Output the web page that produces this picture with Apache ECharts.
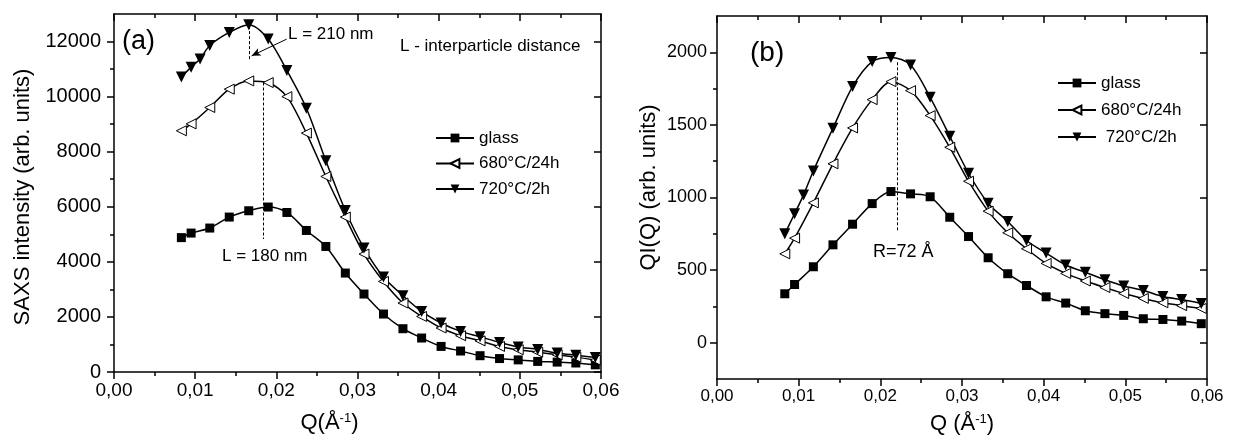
<!DOCTYPE html>
<html><head><meta charset="utf-8">
<script src="https://cdn.jsdelivr.net/npm/echarts@6/dist/echarts.min.js"></script>
<style>html,body{margin:0;padding:0;background:#fff}#c{width:1238px;height:441px}</style>
</head><body><div id="c"></div>
<script>
// ---------- data ----------
const q = [0.0083, 0.0095, 0.0118, 0.0142, 0.0166, 0.0190, 0.0213, 0.0237, 0.0261, 0.0285, 0.0308, 0.0332,
           0.0356, 0.0379, 0.0403, 0.0427, 0.0451, 0.0475, 0.0498, 0.0522, 0.0546, 0.0569, 0.0593];
const q720 = [0.0083, 0.0095, 0.0106, 0.0118, 0.0142, 0.0166, 0.0190, 0.0213, 0.0237, 0.0261, 0.0285, 0.0308,
              0.0332, 0.0356, 0.0379, 0.0403, 0.0427, 0.0451, 0.0475, 0.0498, 0.0522, 0.0546, 0.0569, 0.0593];

// (a) SAXS intensity
const saxsGlass = [4880, 5045, 5227, 5626, 5855, 5990, 5793, 5140, 4559, 3593, 2831, 2105, 1572, 1234, 929, 762, 592, 488, 440, 385, 360, 327, 260];
const saxs680   = [8760, 9010, 9605, 10270, 10570, 10510, 10000, 8675, 7100, 5626, 4283, 3289, 2505, 2018, 1597, 1318, 1130, 929, 809, 720, 625, 540, 435];
const saxs720   = [10710, 11070, 11370, 11855, 12330, 12610, 12090, 10950, 9580, 7670, 5866, 4500, 3448, 2770, 2200, 1779, 1474, 1280, 1074, 910, 820, 690, 610, 530];

// (b) Q*I(Q)
const qiGlass = [337, 401, 523, 674, 816, 958, 1041, 1025, 1005, 864, 731, 585, 475, 394, 316, 273, 220, 200, 188, 165, 160, 149, 131];
const qi680   = [612, 720, 963, 1232, 1479, 1674, 1798, 1736, 1564, 1346, 1112, 906, 757, 647, 546, 477, 425, 380, 339, 305, 275, 255, 236];
const qi720   = [750, 888, 1018, 1183, 1477, 1764, 1936, 1965, 1913, 1690, 1422, 1167, 961, 835, 704, 617, 535, 485, 433, 390, 360, 318, 297, 270];

// ticks
const yTicksA = [0, 2000, 4000, 6000, 8000, 10000, 12000];
const yMinorA = [1000, 3000, 5000, 7000, 9000, 11000];
const yTicksB = [0, 500, 1000, 1500, 2000];
const yMinorB = [250, 750, 1250, 1750];

const namesA = ['glass', '680°C/24h', '720°C/2h'];
const namesB = ['glass', '680°C/24h', ' 720°C/2h'];

// ---------- helpers ----------
const FONT = '"Liberation Sans", Arial, Helvetica, sans-serif';
const BLACK = '#000';
const pairs = (xs, ys) => xs.map((x, i) => [x, ys[i]]);
const fmtQ = v => v.toFixed(2).replace('.', ',');
const fmtY = v => String(Math.round(v));

function xAx(g, pos, labelSize, name, nameGap, namePad) {
  const bottom = pos === 'bottom';
  return {
    type: 'value', gridIndex: g, position: pos, min: 0, max: 0.06, interval: 0.01,
    axisLine: { show: true, onZero: false, lineStyle: { color: BLACK, width: 1.5 } },
    axisTick: { show: true, inside: !bottom, length: 7, lineStyle: { color: BLACK, width: 1.5 } },
    minorTick: { show: true, splitNumber: 2, length: 4, lineStyle: { color: BLACK, width: 1.5 } },
    axisLabel: { show: bottom, formatter: fmtQ, fontSize: labelSize, color: BLACK, fontFamily: FONT, margin: 9 },
    splitLine: { show: false }, minorSplitLine: { show: false },
    name: bottom ? name : '', nameLocation: 'middle', nameGap: nameGap,
    nameTextStyle: {
      color: BLACK, fontFamily: FONT, fontSize: 22, padding: namePad,
      rich: { a: { fontSize: 22, fontFamily: FONT, color: BLACK },
              s: { fontSize: 13, fontFamily: FONT, color: BLACK, verticalAlign: 'top' } }
    }
  };
}
function yAx(g, pos, min, max, interval, ticks, minor, labelSize, opts) {
  const left = pos === 'left';
  const base = {
    type: 'value', gridIndex: g, position: pos, min: min, max: max, interval: interval,
    splitLine: { show: false }
  };
  if (minor) {
    return Object.assign(base, {
      axisLine: { show: false },
      axisTick: { show: true, inside: !left, length: 4, customValues: ticks, lineStyle: { color: BLACK, width: 1.5 } },
      axisLabel: { show: false }
    });
  }
  return Object.assign(base, {
    axisLine: { show: true, onZero: false, lineStyle: { color: BLACK, width: 1.5 } },
    axisTick: { show: true, inside: !left, length: 7, customValues: ticks, lineStyle: { color: BLACK, width: 1.5 } },
    axisLabel: { show: left, customValues: ticks, formatter: fmtY, fontSize: labelSize, color: BLACK, fontFamily: FONT, margin: opts ? opts.margin : 10 },
    name: left && opts ? opts.name : '', nameLocation: 'middle', nameRotate: 90,
    nameGap: opts ? opts.nameGap : 0,
    nameTextStyle: { color: BLACK, fontFamily: FONT, fontSize: 22, padding: opts ? opts.pad : 0 }
  });
}

const lineStyle = { color: BLACK, width: 1.5 };
function mkSeries(name, xs, ys, xi, yi, kind, extra) {
  const s = {
    type: 'line', name: name, xAxisIndex: xi, yAxisIndex: yi, data: pairs(xs, ys),
    smooth: 0.3, showAllSymbol: true, lineStyle: lineStyle, z: 3
  };
  if (kind === 'sq') {
    Object.assign(s, { symbol: 'rect', symbolSize: 9, itemStyle: { color: BLACK, borderWidth: 0 } });
  } else if (kind === 'left') {
    Object.assign(s, { symbol: 'triangle', symbolRotate: 90, symbolSize: 10,
      itemStyle: { color: '#fff', borderColor: BLACK, borderWidth: 1 } });
  } else {
    Object.assign(s, { symbol: 'triangle', symbolRotate: 180, symbolSize: 11, itemStyle: { color: BLACK, borderWidth: 0 } });
  }
  return Object.assign(s, extra || {});
}
const dashed = { color: BLACK, width: 1, type: [3, 2] };
function vline(x, y1, y2) { return [{ coord: [x, y1] }, { coord: [x, y2] }]; }

const legendBase = {
  orient: 'vertical', itemWidth: 38, itemHeight: 11,
  textStyle: { color: BLACK, fontFamily: FONT, fontSize: 17, lineHeight: 20 },
  selectedMode: false, inactiveColor: BLACK
};

const option = {
  animation: false,
  backgroundColor: '#fff',
  grid: [
    { left: 114, right: 637, top: 14, bottom: 69 },
    { left: 717, right: 31, top: 16, bottom: 62 }
  ],
  xAxis: [
    xAx(0, 'bottom', 19, '{a|Q(Å}{s|-1}{a|)}', 40, [0, 56, 0, 0]),
    xAx(0, 'top', 19),
    xAx(1, 'bottom', 17, '{a|Q (Å}{s|-1}{a|)}', 34, 0),
    xAx(1, 'top', 17)
  ],
  yAxis: [
    yAx(0, 'left', 0, 13000, 1000, yTicksA, false, 20, { name: 'SAXS intensity (arb. units)', nameGap: 80, margin: 13, pad: [0, 8, 0, 0] }),
    yAx(0, 'left', 0, 13000, 1000, yMinorA, true),
    yAx(0, 'right', 0, 13000, 1000, yTicksA, false, 20),
    yAx(0, 'right', 0, 13000, 1000, yMinorA, true),
    yAx(1, 'left', -250, 2250, 250, yTicksB, false, 18, { name: 'QI(Q) (arb. units)', nameGap: 57, margin: 10, pad: [0, 0, 0, 20] }),
    yAx(1, 'left', -250, 2250, 250, yMinorB, true),
    yAx(1, 'right', -250, 2250, 250, yTicksB, false, 18),
    yAx(1, 'right', -250, 2250, 250, yMinorB, true)
  ],
  legend: [
    Object.assign({}, legendBase, { left: 430, top: 123, itemGap: 5.5, data: namesA }),
    Object.assign({}, legendBase, { left: 1052, top: 68, itemGap: 7, data: namesB })
  ],
  series: [
    mkSeries(namesA[0], q, saxsGlass, 0, 0, 'sq'),
    mkSeries(namesA[1], q, saxs680, 0, 0, 'left', {
      markLine: { silent: true, symbol: ['none', 'none'], label: { show: false }, lineStyle: dashed,
        data: [vline(0.01839, 10512, 4828)] }
    }),
    mkSeries(namesA[2], q720, saxs720, 0, 0, 'down', {
      markLine: { silent: true, symbol: ['none', 'none'], label: { show: false }, lineStyle: dashed,
        data: [
          vline(0.01666, 12560, 11310),
          [{ coord: [0.02127, 12087], symbol: 'none', lineStyle: { type: 'solid', width: 1, color: BLACK } },
           { coord: [0.01696, 11481], symbol: 'arrow', symbolSize: [6, 9] }]
        ] }
    }),
    mkSeries(namesB[0], q, qiGlass, 2, 4, 'sq'),
    mkSeries(namesB[1], q, qi680, 2, 4, 'left'),
    mkSeries(namesB[2], q720, qi720, 2, 4, 'down', {
      markLine: { silent: true, symbol: ['none', 'none'], label: { show: false }, lineStyle: dashed,
        data: [vline(0.02211, 1931, 773)] }
    })
  ],
  graphic: [
    { type: 'text', style: { text: '(a)', x: 122, y: 42, font: '27px ' + FONT, fill: BLACK, textAlign: 'left', textVerticalAlign: 'middle', align: 'left', verticalAlign: 'middle' } },
    { type: 'text', style: { text: 'L = 210 nm', x: 288, y: 34, font: '17px ' + FONT, fill: BLACK, textAlign: 'left', textVerticalAlign: 'middle', align: 'left', verticalAlign: 'middle' } },
    { type: 'text', style: { text: 'L - interparticle distance', x: 400, y: 46, font: '17px ' + FONT, fill: BLACK, textAlign: 'left', textVerticalAlign: 'middle', align: 'left', verticalAlign: 'middle' } },
    { type: 'text', style: { text: 'L = 180 nm', x: 222, y: 256, font: '17px ' + FONT, fill: BLACK, textAlign: 'left', textVerticalAlign: 'middle', align: 'left', verticalAlign: 'middle' } },
    { type: 'text', style: { text: '(b)', x: 750, y: 53, font: '28px ' + FONT, fill: BLACK, textAlign: 'left', textVerticalAlign: 'middle', align: 'left', verticalAlign: 'middle' } },
    { type: 'text', style: { text: 'R=72 Å', x: 873, y: 252, font: '18px ' + FONT, fill: BLACK, textAlign: 'left', textVerticalAlign: 'middle', align: 'left', verticalAlign: 'middle' } }
  ]
};

const chart = echarts.init(document.getElementById('c'), null, { renderer: 'canvas' });
chart.setOption(option);
</script>
</body></html>
